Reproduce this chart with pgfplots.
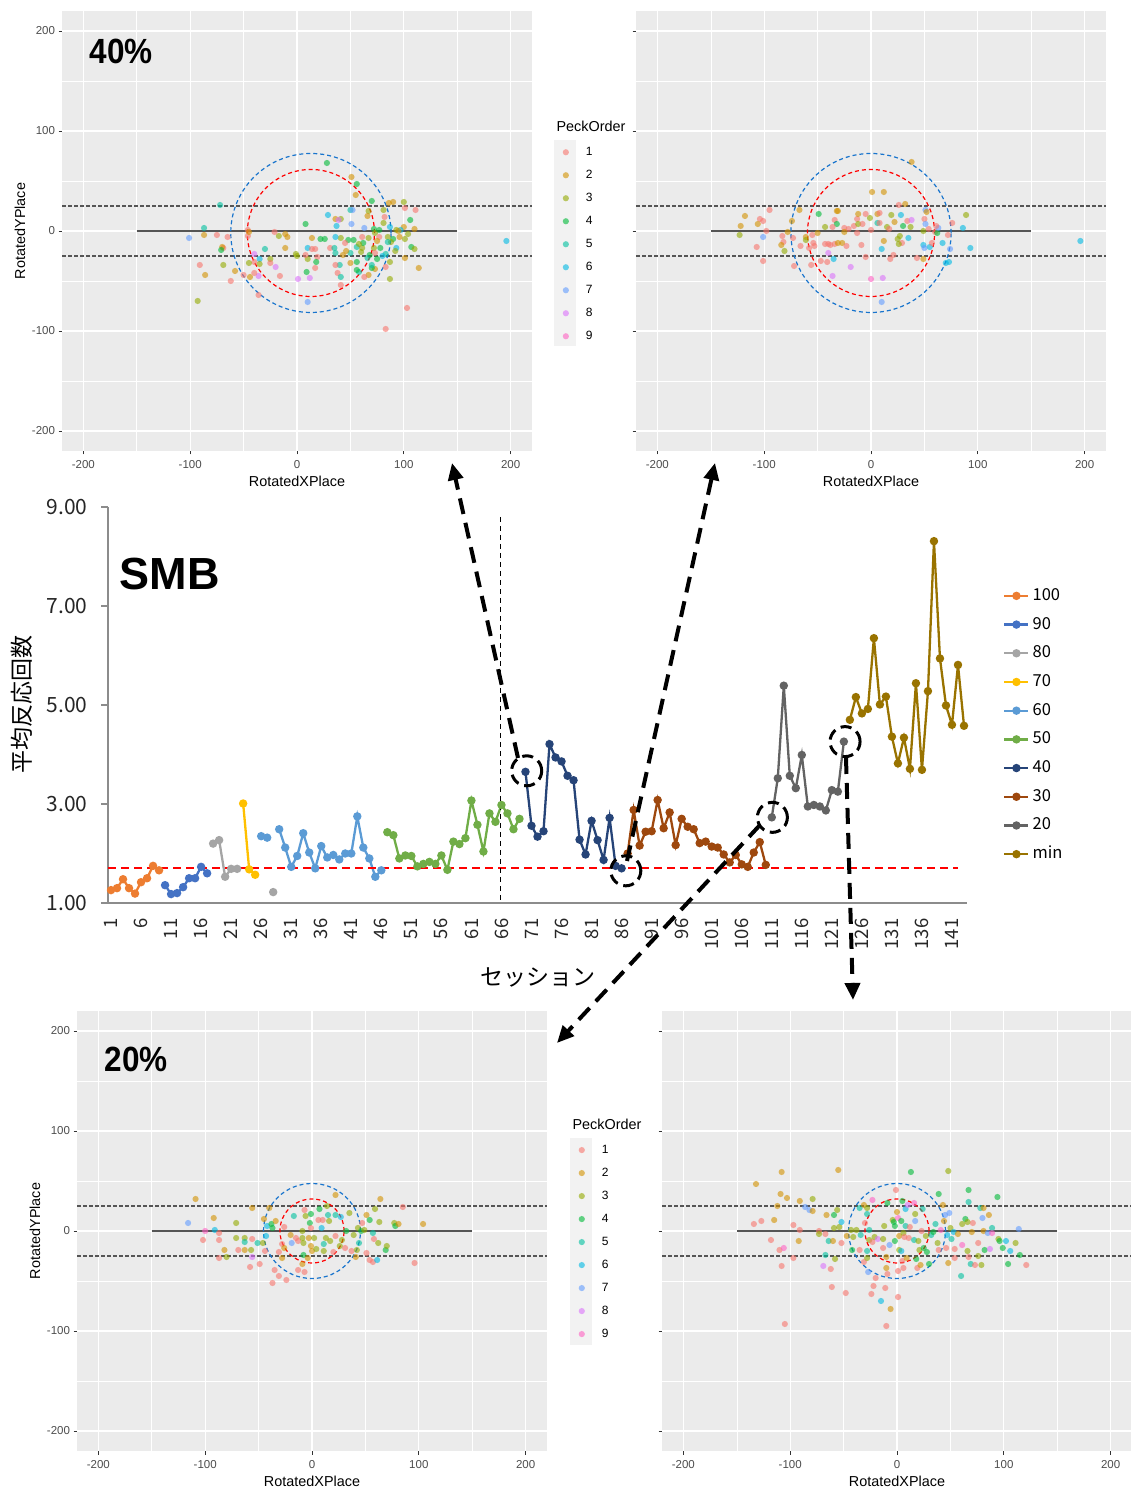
\documentclass[border=0pt]{standalone}
\usepackage{fontspec}
\setmainfont{Liberation Sans}
\newfontfamily\jp{Noto Sans CJK JP}
\usepackage{pgfplots}
\pgfplotsset{compat=1.18}
\usepackage{pgfplotstable}
\usetikzlibrary{arrows.meta}

\newcommand{\fs}[1]{\fontsize{#1}{#1}\selectfont}

% ggplot hue palette for PeckOrder 1..9
\definecolor{po1}{HTML}{F8766D}
\definecolor{po2}{HTML}{D39200}
\definecolor{po3}{HTML}{93AA00}
\definecolor{po4}{HTML}{00BA38}
\definecolor{po5}{HTML}{00C19F}
\definecolor{po6}{HTML}{00B9E3}
\definecolor{po7}{HTML}{619CFF}
\definecolor{po8}{HTML}{DB72FB}
\definecolor{po9}{HTML}{FF61C3}
\definecolor{ggbg}{HTML}{EBEBEB}
\definecolor{ggkey}{HTML}{F2F2F2}
\definecolor{ggtxt}{HTML}{4D4D4D}
\definecolor{ggtickc}{HTML}{333333}
\definecolor{ggline}{HTML}{555555}
\definecolor{ggblue}{HTML}{1874CD}
% excel series colours
\definecolor{c100}{HTML}{ED7D31}
\definecolor{c90}{HTML}{4472C4}
\definecolor{c80}{HTML}{A5A5A5}
\definecolor{c70}{HTML}{FFC000}
\definecolor{c60}{HTML}{5B9BD5}
\definecolor{c50}{HTML}{70AD47}
\definecolor{c40}{HTML}{264478}
\definecolor{c30}{HTML}{9E480E}
\definecolor{c20}{HTML}{636363}
\definecolor{cmin}{HTML}{997300}
\definecolor{xlaxis}{HTML}{8C8C8C}

\pgfplotsset{
  ggpanel/.style={
    scale only axis, width=470pt, height=440pt,
    xmin=-220, xmax=220, ymin=-220, ymax=220,
    axis background/.style={fill=ggbg},
    axis line style={draw=none},
    xtick={-200,-100,0,100,200}, ytick={-200,-100,0,100,200},
    minor xtick={-150,-50,50,150}, minor ytick={-150,-50,50,150},
    xticklabels={-200,-100,0,100,200}, yticklabels={-200,-100,0,100,200},
    grid=both,
    major grid style={white, line width=1.1pt},
    minor grid style={white, line width=0.55pt},
    tick pos=left, tick align=outside,
    major tick length=3.5pt, minor tick length=0pt,
    tick style={ggtickc, line width=0.8pt},
    ticklabel style={font=\fs{11.5}, text=ggtxt},
    xticklabel shift=2pt,
    label style={font=\fs{14.4}},
    xlabel={RotatedXPlace},
    xlabel style={at={(axis description cs:0.5,-0.068)}, anchor=center},
    ylabel style={at={(axis description cs:-0.0894,0.5)}, anchor=center},
    legend style={draw=none, fill=none, anchor=north west, font=\fs{12},
      inner sep=0pt, row sep=11pt,
      nodes={inner sep=0pt, text height=9pt, text depth=3pt},
      /tikz/every odd column/.append style={column sep=17pt}},
    legend cell align=left,
  },
  ggpts/.style={scatter, only marks, scatter src=explicit symbolic, mark size=3.1pt,
    scatter/classes={
      1={mark=*,po1,fill opacity=0.6,draw opacity=0},
      2={mark=*,po2,fill opacity=0.6,draw opacity=0},
      3={mark=*,po3,fill opacity=0.6,draw opacity=0},
      4={mark=*,po4,fill opacity=0.6,draw opacity=0},
      5={mark=*,po5,fill opacity=0.6,draw opacity=0},
      6={mark=*,po6,fill opacity=0.6,draw opacity=0},
      7={mark=*,po7,fill opacity=0.6,draw opacity=0},
      8={mark=*,po8,fill opacity=0.6,draw opacity=0},
      9={mark=*,po9,fill opacity=0.6,draw opacity=0}}},
  ser/.style={color=#1, mark=*, mark size=3pt, line width=2.3pt, mark options={solid}},
}

% reference lines and circles of one panel: centre, blue radii, red radii
\newcommand{\ggextras}[6]{%
  \draw[ggline, line width=1.4pt] (axis cs:-150,0) -- (axis cs:150,0);
  \draw[ggline, line width=1.1pt, dash pattern=on 3.5pt off 2.5pt] (axis cs:-220,25) -- (axis cs:220,25);
  \draw[ggline, line width=1.1pt, dash pattern=on 3.5pt off 2.5pt] (axis cs:-220,-25) -- (axis cs:220,-25);
  \draw[ggblue, line width=1.2pt, dash pattern=on 4pt off 3pt] (axis cs:#1,#2) ellipse [x radius=#3, y radius=#4];
  \draw[red, line width=1.2pt, dash pattern=on 4pt off 3pt] (axis cs:#1,#2) ellipse [x radius=#5, y radius=#6];
}

\pgfplotstableread{
x y c
28 68 4
51 54 2
56 47 4
55 36 2
70 30 4
86 28 2
90 29 2
100 29 3
101 23 1
111 21 1
81 21 3
67 20 3
50 21 5
52 21 7
29 16 6
36 12 2
41 12 3
39 11 8
8 7 4
51 7 7
63 3 7
37 5 6
66 15 2
82 14 1
81 8 3
87 4 6
106 11 4
110 2 2
100 4 2
93 1 3
97 1 6
72 2 4
73 -2 3
77 -6 1
85 -6 3
90 -8 4
96 -6 2
101 -8 3
107 -16 4
110 -18 3
93 -17 6
88 -11 3
85 -11 5
78 -17 4
72 -17 3
73 -22 1
68 -24 4
83 -23 5
87 -31 3
83 -36 1
73 -38 2
70 -37 4
67 -44 2
63 -46 1
58 -41 5
56 -39 4
56 -31 4
70 -34 5
60 -21 3
56 -16 5
53 -9 4
48 -9 4
45 -12 1
41 -7 3
36 -6 6
31 -17 1
35 -17 5
36 -22 5
43 -24 2
50 -22 5
50 -32 2
40 -34 5
36 -34 1
38 -42 1
41 -46 5
41 -54 1
61 -17 3
77 1 4
61 -6 1
67 -7 3
87 -48 3
83 -98 1
103 -77 1
114 -37 2
101 -27 2
196 -10 6
10 -17 6
14 -18 1
17 -18 1
19 -26 1
10 -28 3
8 -24 1
-1 -23 3
0 -25 3
18 -31 4
17 -37 1
9 -41 4
12 -47 8
1 -48 8
10 -71 7
22 -8 4
26 -8 4
14 -7 2
-9 -6 2
-11 -3 2
-17 -5 3
-21 -1 1
-11 -17 2
-16 -45 1
-20 -36 8
-25 -28 3
-25 -32 1
-30 -18 5
-35 -28 6
-35 -33 3
-40 -31 1
-40 -23 8
-36 -45 8
-40 -42 1
-44 -46 2
-36 -64 1
-45 -32 3
-46 1 1
-46 -5 1
-45 -1 2
-50 -44 1
-58 -40 2
-62 -50 1
-65 -6 1
-69 -17 1
-70 -16 2
-71 -19 4
-69 -34 3
-72 26 5
-75 -4 1
-87 3 5
-87 -4 2
-101 -7 7
-91 -34 1
-86 -44 2
-93 -70 3
62 -12 4
75 -28 4
80 -25 6
66 -27 5
58 -13 3
46 -20 2
95 0 2
104 -3 3
92 -20 3
75 -10 2
}\tlpts

\pgfplotstableread{
x y c
38 69 2
1 39 2
12 39 2
32 27 2
26 26 1
-67 21 2
-95 21 1
-118 15 2
-122 5 2
-123 -4 3
-104 12 1
-101 10 1
-106 7 2
-98 0 1
-107 -16 1
-101 -6 7
-101 -30 1
-83 -5 1
-82 -11 1
-84 -14 2
-81 -20 3
-78 -1 2
-74 10 2
-73 -7 1
-72 -35 1
-66 -15 1
-61 -6 2
-61 -9 3
-55 -4 1
-54 -12 1
-58 -17 1
-53 -15 1
-50 -2 2
-49 17 4
-56 -34 1
-47 -30 1
-43 4 3
-43 -13 1
-40 -13 1
-38 -14 1
-34 -13 1
-31 -12 2
-27 -12 2
-23 -15 1
-40 -22 8
-41 -31 1
-35 -28 6
-36 -45 8
-19 -36 8
-32 20 2
-31 20 2
-34 11 1
-32 7 4
-36 4 1
-25 3 1
-21 2 1
-25 -1 2
-16 5 1
-13 12 1
-12 17 2
-12 7 3
-13 -2 1
-8 7 1
-9 -14 1
-5 17 1
-1 13 3
0 1 1
-5 -26 1
0 -48 9
11 -47 8
10 -71 7
10 -18 6
12 -10 2
6 17 2
8 18 1
6 8 5
8 8 1
15 4 3
17 2 1
19 16 3
22 9 2
28 16 6
30 5 4
34 10 1
37 4 3
38 11 8
35 -7 6
25 -8 3
27 -5 3
29 -12 1
26 -13 3
21 -24 1
18 -28 1
43 -27 1
49 -28 2
49 -14 6
50 -17 7
55 -16 6
49 0 3
54 2 1
50 12 1
51 7 7
51 21 7
52 19 2
60 -1 1
62 -2 4
63 3 7
61 5 1
57 -12 1
67 -12 6
72 -4 1
76 8 1
70 -32 6
73 -31 6
74 -18 7
86 3 6
89 16 3
93 -17 6
196 -10 6
}\trpts

\pgfplotstableread{
x y c
-109 32 2
-116 8 7
-100 0 9
-102 -9 1
-92 13 2
-91 1 6
-87 -2 1
-87 -9 1
-82 -19 2
-87 -27 1
-80 -26 3
-71 8 3
-71 -7 3
-69 -19 1
-63 -7 3
-63 -11 5
-63 -19 2
-57 -19 3
-56 -8 1
-56 -26 8
-56 23 2
-58 -36 1
-51 -12 5
-49 -33 1
-46 -12 3
-43 -5 6
-45 12 2
-44 -20 1
-40 23 2
-42 5 6
-38 7 4
-37 3 4
-34 10 2
-35 -39 1
-37 -52 1
-31 -45 1
-31 -21 1
-28 -13 1
-26 -17 2
-28 -27 2
-24 -49 1
-26 4 1
-19 -12 7
-20 -4 2
-17 15 5
-15 -7 1
-13 -10 1
-13 -39 1
-9 0 3
-9 -7 3
-8 -12 3
-8 -24 4
-9 -33 2
-7 -41 1
-7 21 1
-6 15 3
-2 8 4
-1 17 4
-1 3 1
-3 -7 2
-1 -15 2
0 -20 2
-4 -27 2
2 -7 3
4 -18 3
6 11 1
7 22 4
9 3 6
10 11 1
11 -13 5
11 -20 3
13 -7 3
14 25 3
15 16 5
16 10 3
17 -10 3
20 -21 1
22 -5 1
22 36 2
22 16 5
26 -15 3
27 14 6
28 -9 3
32 0 4
31 -17 1
35 18 3
37 -20 1
39 -4 3
41 -26 2
42 -19 3
43 3 3
44 -12 5
46 0 4
47 8 1
49 1 3
51 16 2
54 11 4
54 -29 1
57 -31 1
57 -2 5
58 -8 1
59 22 3
61 -29 6
63 9 3
64 32 2
62 -12 3
69 -19 4
70 -15 3
77 8 3
78 5 4
81 7 2
85 24 1
96 -32 1
104 7 2
51 -22 1
}\blpts

\pgfplotstableread{
x y c
-132 47 2
-108 59 2
-109 37 2
-103 33 2
-112 25 2
-115 11 2
-134 7 1
-127 10 1
-118 -9 1
-110 -19 1
-106 -17 9
-108 -35 1
-105 -93 1
-97 6 1
-91 1 1
-92 -10 2
-97 -27 1
-91 30 2
-86 24 7
-82 21 7
-79 32 3
-79 20 2
-73 0 1
-73 -3 3
-67 -3 1
-66 16 2
-64 -10 5
-67 -24 5
-69 -35 8
-62 -38 1
-61 -56 1
-60 -10 2
-59 3 3
-58 -28 3
-59 16 4
-56 21 3
-55 61 2
-54 4 3
-52 9 6
-52 -12 1
-48 -62 1
-47 -5 2
-43 1 3
-42 -19 4
-41 -6 3
-38 1 3
-35 23 5
-35 -19 1
-34 -4 5
-31 26 2
-31 -31 1
-30 8 1
-28 23 3
-28 17 5
-28 -20 5
-28 -27 3
-27 -41 7
-26 1 5
-26 -9 3
-23 31 9
-23 -11 1
-24 -63 1
-22 -55 1
-21 -6 3
-20 -47 1
-18 -8 8
-15 -70 6
-13 -8 3
-13 -17 1
-12 5 3
-11 -57 1
-10 -37 2
-9 -43 1
-10 -95 1
-9 28 4
-10 -26 2
-7 -14 7
-6 -78 2
-4 11 3
-3 9 4
-2 5 4
-2 -10 4
0 19 2
1 13 9
-1 41 1
1 -66 1
2 -19 3
1 -40 1
2 -5 2
4 10 4
4 -20 6
5 30 4
5 -30 1
6 -37 1
6 -2 3
7 -6 1
8 22 6
8 5 5
9 -27 2
10 26 8
11 -7 1
12 4 1
13 59 4
16 28 9
17 17 3
17 10 7
16 -9 5
18 -28 4
19 -37 1
20 -10 3
21 -19 3
22 -34 2
23 0 1
24 22 5
25 -17 4
27 -5 3
28 -21 4
30 -33 4
32 -4 5
34 -1 4
36 7 5
38 -12 3
39 37 4
39 -19 1
41 1 9
43 26 2
44 10 2
45 16 7
46 -17 1
48 60 3
47 -4 6
48 -32 2
49 18 7
50 3 3
51 -8 5
53 -1 6
54 -18 1
54 -27 1
57 -3 2
60 -45 5
61 7 3
61 -14 9
64 12 4
66 9 3
66 -20 3
67 41 4
67 29 5
67 -26 1
69 -33 5
70 -1 2
71 8 1
73 -34 1
76 -12 1
76 -25 3
78 23 5
80 13 7
79 -34 3
81 23 2
81 0 2
82 -19 4
85 -2 7
86 16 2
87 -18 8
89 3 5
89 -2 9
94 34 4
95 -8 3
96 -10 4
99 -17 4
102 -10 6
104 -33 4
106 -20 6
111 -12 3
114 2 7
115 -24 4
121 -34 1
}\brpts

\begin{document}
\begin{tikzpicture}
\useasboundingbox (0pt,0pt) rectangle (1130pt,1490pt);

% legend key backgrounds
\fill[ggkey] (554pt,1144pt) rectangle (576pt,1350pt);
\fill[ggkey] (570pt,145pt) rectangle (592pt,352pt);

% ---- top left: 40%
\begin{axis}[ggpanel, at={(62pt,1039pt)}, anchor=south west,
  ylabel={RotatedYPlace},
  legend style={at={(axis description cs:1.065,0.693)}}]
\addplot[ggpts] table[x=x,y=y,meta=c] {\tlpts};
\legend{1,2,3,4,5,6,7,8,9}
\ggextras{13}{-2}{75}{79.5}{59.5}{63.5}
\end{axis}
\node[anchor=west, font=\bfseries\fs{35}] at (86pt,1439pt) {\scalebox{0.9}[1]{40\%}};
\node[anchor=west, font=\fs{14.4}] at (553pt,1364pt) {PeckOrder};

% ---- top right
\begin{axis}[ggpanel, at={(636pt,1039pt)}, anchor=south west,
  yticklabels={}]
\addplot[ggpts] table[x=x,y=y,meta=c] {\trpts};
\ggextras{0}{-2}{75}{79.5}{59.5}{63.5}
\end{axis}

% ---- bottom left: 20%
\begin{axis}[ggpanel, at={(77pt,39pt)}, anchor=south west,
  ylabel={RotatedYPlace},
  legend style={at={(axis description cs:1.067,0.698)}}]
\addplot[ggpts] table[x=x,y=y,meta=c] {\blpts};
\legend{1,2,3,4,5,6,7,8,9}
\ggextras{0}{0}{45.4}{47.5}{30}{32}
\end{axis}
\node[anchor=west, font=\bfseries\fs{35}] at (101pt,431pt) {\scalebox{0.9}[1]{20\%}};
\node[anchor=west, font=\fs{14.4}] at (569pt,366pt) {PeckOrder};

% ---- bottom right
\begin{axis}[ggpanel, at={(662pt,39pt)}, anchor=south west,
  yticklabels={}]
\addplot[ggpts] table[x=x,y=y,meta=c] {\brpts};
\ggextras{0}{0}{45.4}{47.5}{30}{32}
\end{axis}

% ---- central line chart
\begin{axis}[
  at={(108pt,587pt)}, anchor=south west,
  scale only axis, width=859pt, height=396pt,
  xmin=0.5, xmax=143.5, ymin=1, ymax=9, clip=false,
  axis x line=bottom, axis y line=left,
  axis line style={-, xlaxis, line width=1.3pt},
  xtick={1,6,...,141},
  xticklabels={1,6,11,16,21,26,31,36,41,46,51,56,61,66,71,76,81,86,91,96,101,106,111,116,121,126,131,136,141},
  ytick={1,3,5,7,9}, yticklabels={1.00,3.00,5.00,7.00,9.00},
  tick align=outside, major tick length=7pt,
  xtick style={draw=none}, ytick style={xlaxis, line width=1.3pt},
  yticklabel style={font=\jp\fs{21}, text=black!85},
  xticklabel style={font=\jp\fs{18.5}, rotate=90, anchor=east, text=black!85},
  yticklabel shift=10pt, xticklabel shift=5pt,
  unbounded coords=jump,
  ylabel={平均反応回数}, xlabel={セッション},
  ylabel style={font=\jp\fs{23}, at={(axis description cs:-0.1001,0.5)}, anchor=center},
  xlabel style={font=\jp\fs{23}, at={(axis description cs:0.5,-0.187)}, anchor=center},
  legend style={at={(axis description cs:1.042,0.795)}, anchor=north west,
    draw=none, fill=none, font=\jp\fs{16.5}, inner sep=0pt, row sep=13.7pt,
    nodes={inner sep=0pt, text height=12pt, text depth=3pt},
    /tikz/every odd column/.append style={column sep=3pt}},
  legend cell align=left,
  legend image code/.code={\draw[mark repeat=2,mark phase=2,#1] plot coordinates {(0pt,0pt) (12pt,0pt) (24pt,0pt)};},
]
\addplot[ser=c100] coordinates {(1,1.26)(2,1.30)(3,1.48)(4,1.30)(5,1.19)(6,1.42)(7,1.50)(8,1.75)(9,1.66)};
\addlegendentry{100}
\addplot[ser=c90] coordinates {(10,1.36)(11,1.18)(12,1.20)(13,1.32)(14,1.50)(15,1.50)(16,1.73)(17,1.60)};
\addlegendentry{90}
\addplot[ser=c80] coordinates {(18,2.20)(19,2.27)(20,1.53)(21,1.69)(22,1.69)(23,nan)(28,1.22)};
\addlegendentry{80}
\addplot[ser=c70] coordinates {(23,3.01)(24,1.68)(25,1.57)};
\addlegendentry{70}
\addplot[ser=c60] coordinates {(26,2.35)(27,2.32)(28,nan)(29,2.49)(30,2.12)(31,1.73)(32,1.95)(33,2.41)(34,2.02)(35,1.70)(36,2.15)(37,1.92)(38,1.97)(39,1.88)(40,2.00)(41,2.00)(42,2.75)(43,2.12)(44,1.90)(45,1.53)(46,1.66)};
\addlegendentry{60}
\addplot[ser=c50] coordinates {(47,2.43)(48,2.37)(49,1.90)(50,1.96)(51,1.95)(52,1.74)(53,1.79)(54,1.83)(55,1.79)(56,1.96)(57,1.67)(58,2.24)(59,2.19)(60,2.31)(61,3.07)(62,2.58)(63,2.04)(64,2.81)(65,2.64)(66,2.98)(67,2.81)(68,2.49)(69,2.70)};
\addlegendentry{50}
\addplot[ser=c40] coordinates {(70,3.65)(71,2.56)(72,2.34)(73,2.45)(74,4.21)(75,3.94)(76,3.86)(77,3.57)(78,3.48)(79,2.28)(80,1.98)(81,2.66)(82,2.27)(83,1.87)(84,2.72)(85,1.75)(86,1.70)};
\addlegendentry{40}
\addplot[ser=c30] coordinates {(87,2.00)(88,2.88)(89,2.16)(90,2.44)(91,2.45)(92,3.08)(93,2.51)(94,2.83)(95,2.17)(96,2.70)(97,2.54)(98,2.49)(99,2.21)(100,2.24)(101,2.14)(102,2.12)(103,1.98)(104,1.82)(105,1.97)(106,1.78)(107,1.73)(108,2.02)(109,2.23)(110,1.77)};
\addlegendentry{30}
\addplot[ser=c20] coordinates {(111,2.73)(112,3.52)(113,5.39)(114,3.57)(115,3.32)(116,3.99)(117,2.95)(118,2.98)(119,2.95)(120,2.87)(121,3.28)(122,3.25)(123,4.26)};
\addlegendentry{20}
\addplot[ser=cmin] coordinates {(124,4.70)(125,5.16)(126,4.83)(127,4.92)(128,6.35)(129,5.01)(130,5.17)(131,4.36)(132,3.82)(133,4.34)(134,3.71)(135,5.44)(136,3.69)(137,5.28)(138,8.31)(139,5.94)(140,4.99)(141,4.60)(142,5.81)(143,4.58)};
\addlegendentry{min}
% criterion line and phase boundary
\addplot[forget plot, red, no marks, line width=2pt, dash pattern=on 8pt off 5pt] coordinates {(0.5,1.71)(142,1.71)};
\addplot[forget plot, black, no marks, line width=1.3pt, dash pattern=on 5pt off 4pt] coordinates {(65.8,8.8)(65.8,1)};
\coordinate (c1) at (axis cs:70.2,3.67);
\coordinate (c2) at (axis cs:86.7,1.65);
\coordinate (c3) at (axis cs:111.1,2.73);
\coordinate (c4) at (axis cs:123.2,4.26);
\end{axis}
\node[anchor=west, font=\bfseries\fs{45}] at (116pt,916pt) {SMB};

% dashed circles and arrows
\foreach \c in {c1,c2,c3,c4}
  \draw[black, line width=3pt, dash pattern=on 11pt off 6pt] (\c) circle[radius=15pt];
\begin{scope}[line width=4pt, dash pattern=on 16pt off 9pt]
\draw[-{Triangle[length=17pt,width=15pt]}] (518pt,732pt) -- (452pt,1027pt);
\draw[-{Triangle[length=17pt,width=15pt]}] (627pt,629pt) -- (715pt,1027pt);
\draw[-{Triangle[length=17pt,width=15pt]}] (760pt,665pt) -- (557pt,447pt);
\draw[-{Triangle[length=17pt,width=15pt]}] (846pt,732pt) -- (853pt,490pt);
\end{scope}
\end{tikzpicture}
\end{document}
